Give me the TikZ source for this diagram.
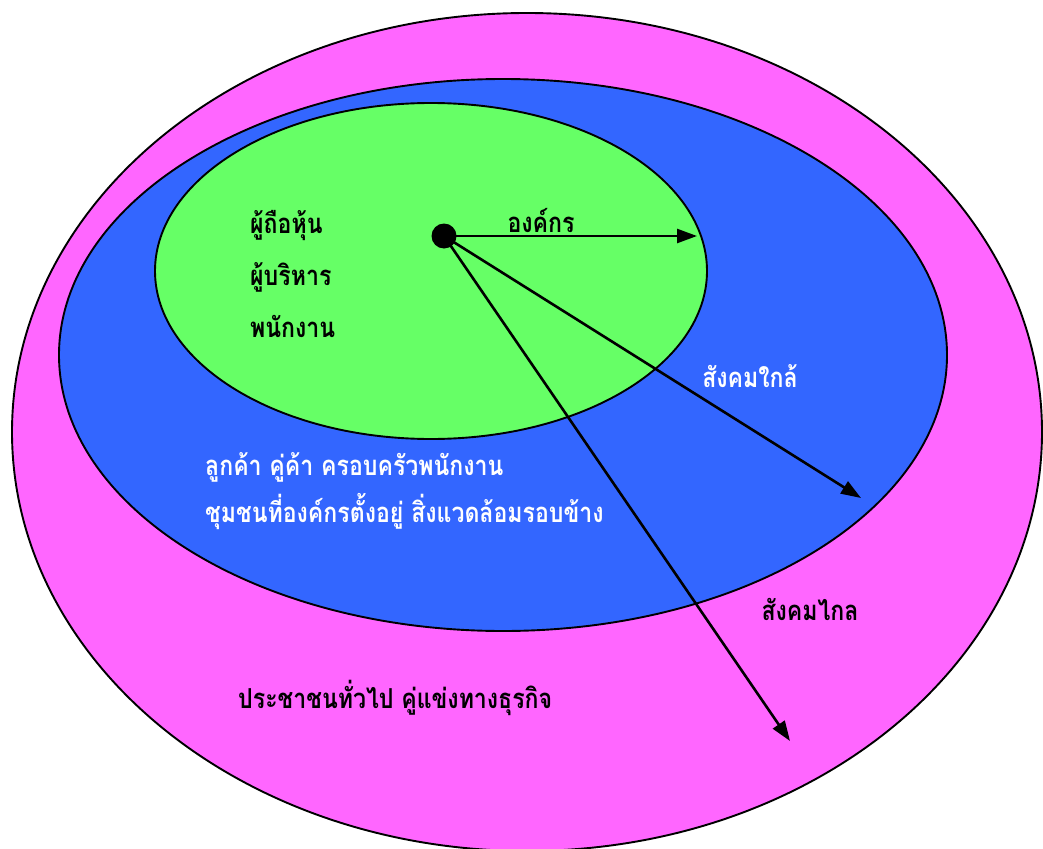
\documentclass[tikz,border=0pt]{standalone}
\usepackage{fontspec}
\newfontfamily\thaifont[Script=Thai,FakeStretch=0.84]{Loma}
\usetikzlibrary{arrows.meta}
\definecolor{pinkc}{HTML}{FF66FF}
\definecolor{bluec}{HTML}{3366FF}
\definecolor{greenc}{HTML}{66FF66}
\begin{document}
\begin{tikzpicture}[x=1pt,y=-1pt,
  ring/.style={draw=black,line width=1.9pt},
  lbl/.style={font=\thaifont\bfseries\fontsize{27.5}{30}\selectfont,inner sep=0pt},
  arr/.style={line width=2.6pt,-{Triangle[length=20pt,width=14pt]}}]
\useasboundingbox (0,0) rectangle (1043,848);
\fill[white] (0,0) rectangle (1043,848);
\draw[ring,fill=pinkc] (527,432) ellipse [x radius=515,y radius=419];
\draw[ring,fill=bluec] (503,355) ellipse [x radius=444,y radius=276];
\draw[ring,fill=greenc] (431,271) ellipse [x radius=276,y radius=168];
\node[circle,fill=black,inner sep=0pt,minimum size=25pt] (dot) at (444,236) {};
\coordinate (t1) at (697,236);
\coordinate (t2) at (861,498);
\coordinate (t3) at (790,741);
\draw[arr] (dot.center) -- (t1);
\draw[arr] (dot.center) -- (t2);
\draw[arr] (dot.center) -- (t3);
\node[lbl,anchor=base west] (s1) at (250,233) {ผู้ถือหุ้น};
\node[lbl,anchor=base west] (s2) at (250,285) {ผู้บริหาร};
\node[lbl,anchor=base west] (s3) at (250,337) {พนักงาน};
\node[lbl,anchor=base] (org) at (541,232) {องค์กร};
\node[lbl,anchor=base,text=white] (near) at (750,387) {สังคมใกล้};
\node[lbl,anchor=base west,text=white] (n1) at (205,475) {ลูกค้า คู่ค้า ครอบครัวพนักงาน};
\node[lbl,anchor=base west,text=white] (n2) at (205,522) {ชุมชนที่องค์กรตั้งอยู่ สิ่งแวดล้อมรอบข้าง};
\node[lbl,anchor=base] (far) at (810,620) {สังคมไกล};
\node[lbl,anchor=base west] (p1) at (238,708) {ประชาชนทั่วไป คู่แข่งทางธุรกิจ};
\end{tikzpicture}
\end{document}
